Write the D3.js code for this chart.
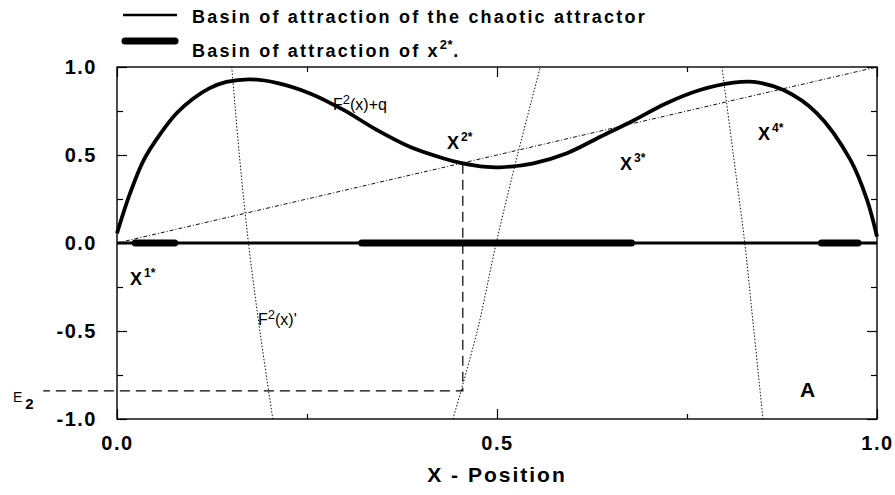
<!DOCTYPE html>
<html>
<head>
<meta charset="utf-8">
<script src="https://cdn.jsdelivr.net/npm/d3@7"></script>
<style>
  body { margin: 0; background: #fff; }
  svg { display: block; font-family: "Liberation Sans", Arial, sans-serif; }
  .tick text { font-weight: bold; font-size: 20px; letter-spacing: 1.5px; fill: #000; }
  .tick line { stroke: #000; stroke-width: 1.2; }
</style>
</head>
<body>
<svg id="chart" width="895" height="495"></svg>
<script>
'use strict'

// F^2(x)+q
const mapX = [0, 0.017, 0.035, 0.057, 0.079, 0.1, 0.122, 0.144, 0.175, 0.21, 0.254, 0.298, 0.342,
  0.386, 0.43, 0.452, 0.486, 0.504, 0.548, 0.592, 0.636, 0.679, 0.723, 0.767, 0.811, 0.838, 0.877,
  0.921, 0.965, 0.987, 1.0]
const mapY = [0.055, 0.28, 0.47, 0.62, 0.74, 0.82, 0.88, 0.915, 0.93, 0.91, 0.85, 0.756, 0.642,
  0.545, 0.48, 0.455, 0.432, 0.43, 0.453, 0.51, 0.604, 0.695, 0.794, 0.869, 0.911, 0.915, 0.869,
  0.737, 0.472, 0.244, 0.036]

// F^2(x)' branches (only the parts inside [-1, 1])
const derivX1 = [0.151, 0.161, 0.173, 0.188, 0.205]
const derivY1 = [1, 0.5, 0, -0.5, -1]
const derivX2 = [0.442, 0.474, 0.499, 0.527, 0.557]
const derivY2 = [-1, -0.5, 0, 0.5, 1]
const derivX3 = [0.796, 0.811, 0.826, 0.838, 0.85]
const derivY3 = [1, 0.5, 0, -0.5, -1]

// identity line y = x
const diagX = [0, 1]
const diagY = [0, 1]

// basin of x2* along y = 0
const basinStart = [0.024, 0.322, 0.927]
const basinEnd = [0.076, 0.677, 0.975]

const x2Star = 0.455
const x2StarY = 0.45
const e2Level = -0.84
const e2Left = -0.097

const xTicksMajor = [0, 0.5, 1]
const xTicksMinor = [0.25, 0.75]
const yTicksMajor = [-1, -0.5, 0, 0.5, 1]
const yTicksMinor = [-0.75, -0.25, 0.25, 0.75]

const legendLabels = ['Basin of attraction of the chaotic attractor', 'Basin of attraction of x']

const svg = d3.select('#chart')
const plotLeft = 117
const plotRight = 877
const plotTop = 67
const plotBottom = 419

const x = d3.scaleLinear().domain([0, 1]).range([plotLeft, plotRight])
const y = d3.scaleLinear().domain([-1, 1]).range([plotBottom, plotTop])

const zip = (xs, ys) => xs.map((v, i) => [v, ys[i]])
const line = d3.line().x(d => x(d[0])).y(d => y(d[1]))

// axes: ticks point inward, labels only on bottom / left
// plain hyphen, not the unicode minus d3.format gives
const fmt = d => d3.format('.1f')(d).replace('\u2212', '-')
svg.append('g').attr('transform', `translate(0,${plotBottom})`)
  .call(d3.axisBottom(x).tickValues(xTicksMajor).tickSize(-10).tickSizeOuter(0).tickPadding(17).tickFormat(fmt))
svg.append('g').attr('transform', `translate(0,${plotBottom})`)
  .call(d3.axisBottom(x).tickValues(xTicksMinor).tickSize(-5).tickSizeOuter(0).tickFormat(''))
svg.append('g').attr('transform', `translate(0,${plotTop})`)
  .call(d3.axisTop(x).tickValues(xTicksMajor).tickSize(-10).tickSizeOuter(0).tickFormat(''))
svg.append('g').attr('transform', `translate(0,${plotTop})`)
  .call(d3.axisTop(x).tickValues(xTicksMinor).tickSize(-5).tickSizeOuter(0).tickFormat(''))
svg.append('g').attr('transform', `translate(${plotLeft},0)`)
  .call(d3.axisLeft(y).tickValues(yTicksMajor).tickSize(-10).tickSizeOuter(0).tickPadding(20).tickFormat(fmt))
svg.append('g').attr('transform', `translate(${plotLeft},0)`)
  .call(d3.axisLeft(y).tickValues(yTicksMinor).tickSize(-6).tickSizeOuter(0).tickFormat(''))
svg.append('g').attr('transform', `translate(${plotRight},0)`)
  .call(d3.axisRight(y).tickValues(yTicksMajor).tickSize(-10).tickSizeOuter(0).tickFormat(''))
svg.append('g').attr('transform', `translate(${plotRight},0)`)
  .call(d3.axisRight(y).tickValues(yTicksMinor).tickSize(-6).tickSizeOuter(0).tickFormat(''))
svg.selectAll('.domain').remove()

svg.append('rect')
  .attr('x', plotLeft).attr('y', plotTop)
  .attr('width', plotRight - plotLeft).attr('height', plotBottom - plotTop)
  .attr('fill', 'none').attr('stroke', '#000').attr('stroke-width', 1.4)

// identity line
svg.append('path')
  .attr('d', line(zip(diagX, diagY)))
  .attr('fill', 'none').attr('stroke', '#111').attr('stroke-width', 1)
  .attr('stroke-dasharray', '4,2,1,2')

// derivative branches
const derivLine = d3.line().x(d => x(d[0])).y(d => y(d[1])).curve(d3.curveCatmullRom)
;[zip(derivX1, derivY1), zip(derivX2, derivY2), zip(derivX3, derivY3)].forEach(pts => {
  svg.append('path')
    .attr('d', derivLine(pts))
    .attr('fill', 'none').attr('stroke', '#111').attr('stroke-width', 1)
    .attr('stroke-dasharray', '1.5,1.8')
})

// E2 construction
svg.append('path')
  .attr('d', line([[x2Star, x2StarY], [x2Star, e2Level], [e2Left, e2Level]]))
  .attr('fill', 'none').attr('stroke', '#000').attr('stroke-width', 1.2)
  .attr('stroke-dasharray', '10,6')

// y = 0: chaotic basin (thin) and x2* basin (thick)
svg.append('line')
  .attr('x1', x(0)).attr('x2', x(1)).attr('y1', y(0)).attr('y2', y(0))
  .attr('stroke', '#000').attr('stroke-width', 3)
svg.selectAll('line.basin')
  .data(basinStart.map((s, i) => [s, basinEnd[i]]))
  .enter().append('line')
  .attr('class', 'basin')
  .attr('x1', d => x(d[0])).attr('x2', d => x(d[1]))
  .attr('y1', y(0)).attr('y2', y(0))
  .attr('stroke', '#000').attr('stroke-width', 7).attr('stroke-linecap', 'round')

// F^2(x)+q
svg.append('path')
  .attr('d', d3.line().x(d => x(d[0])).y(d => y(d[1])).curve(d3.curveCatmullRom.alpha(0.5))(zip(mapX, mapY)))
  .attr('fill', 'none').attr('stroke', '#000').attr('stroke-width', 3.8)
  .attr('stroke-linejoin', 'round')

// legend
svg.append('line').attr('x1', 123).attr('x2', 177).attr('y1', 15).attr('y2', 15)
  .attr('stroke', '#000').attr('stroke-width', 2.6)
svg.append('line').attr('x1', 125).attr('x2', 175).attr('y1', 41).attr('y2', 41)
  .attr('stroke', '#000').attr('stroke-width', 7).attr('stroke-linecap', 'round')

const legendText = (yPos) => svg.append('text')
  .attr('x', 192).attr('y', yPos)
  .attr('font-size', 18).attr('font-weight', 'bold').attr('letter-spacing', '2.2px')
legendText(23).text(legendLabels[0])
const lg2 = legendText(57)
lg2.append('tspan').text(legendLabels[1])
lg2.append('tspan').attr('dy', -8).attr('font-size', 13).attr('letter-spacing', '0.5px').text('2*')
lg2.append('tspan').attr('dy', 8).text('.')

// point labels
function starLabel (px, py, sup) {
  const t = svg.append('text').attr('x', px).attr('y', py)
    .attr('font-size', 18).attr('font-weight', 'bold')
  t.append('tspan').text('X')
  t.append('tspan').attr('dx', 2).attr('dy', -8).attr('font-size', 12).text(sup + '*')
}
starLabel(130, 285, '1')
starLabel(447, 149, '2')
starLabel(620, 170, '3')
starLabel(758, 140, '4')

function fLabel (px, py, tail) {
  const t = svg.append('text').attr('x', px).attr('y', py).attr('font-size', 16)
  t.append('tspan').text('F')
  t.append('tspan').attr('dy', -6).attr('font-size', 13).text('2')
  t.append('tspan').attr('dy', 6).text(tail)
}
fLabel(333, 110, '(x)+q')
fLabel(258, 325, "(x)'")

svg.append('text').attr('x', 800).attr('y', 397)
  .attr('font-size', 21).attr('font-weight', 'bold').text('A')

const e2 = svg.append('text').attr('x', 13).attr('y', 402).attr('font-size', 14)
e2.append('tspan').text('E')
e2.append('tspan').attr('dx', 3).attr('dy', 7).attr('font-weight', 'bold').attr('font-size', 15).text('2')

// axis title
svg.append('text').attr('x', (plotLeft + plotRight) / 2).attr('y', 482)
  .attr('text-anchor', 'middle').attr('font-size', 21).attr('font-weight', 'bold')
  .attr('letter-spacing', '2px').text('X - Position')
</script>
</body>
</html>
